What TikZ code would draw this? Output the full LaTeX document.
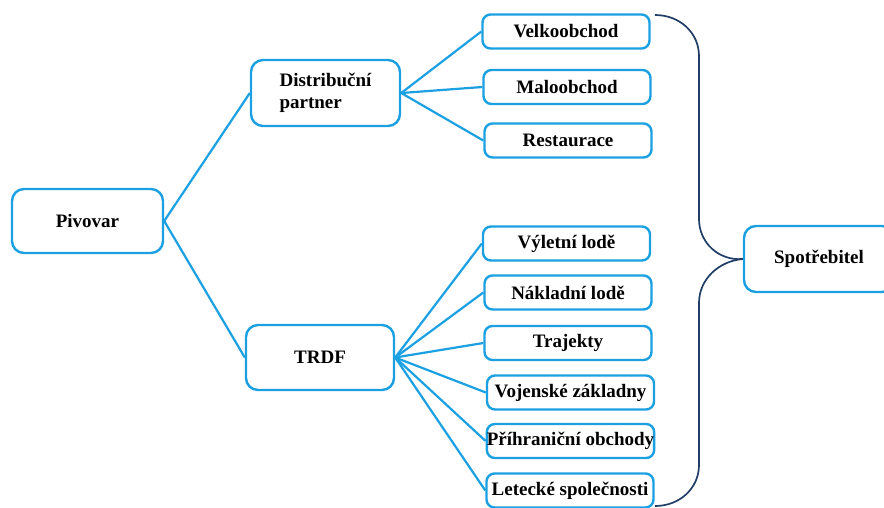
\documentclass[tikz,border=0pt]{standalone}
\usepackage{fontspec}
\setmainfont{Liberation Serif}
\definecolor{boxblue}{RGB}{27,160,226}
\definecolor{bracenavy}{RGB}{32,62,104}
\tikzset{
  box/.style={draw=boxblue, line width=2.4pt, rounded corners=12pt, fill=white,
    inner sep=0pt, font=\fontsize{19}{22}\selectfont\bfseries, text=black},
  leaf/.style={box, rounded corners=8pt, minimum width=167pt, minimum height=34pt},
  link/.style={draw=boxblue, line width=2.2pt},
  bracket/.style={draw=bracenavy, line width=1.7pt}
}
\begin{document}
\begin{tikzpicture}[x=1pt,y=-1pt]
\useasboundingbox (0,0) rectangle (884,507);

% main chain
\node[box, minimum width=151pt, minimum height=64pt] (piv) at (87.5,221) {Pivovar};
\node[box, minimum width=149pt, minimum height=66pt, align=left] (dist) at (325.5,93) {Distribuční\\partner};
\node[box, minimum width=148pt, minimum height=65pt] (trdf) at (320,357.5) {TRDF};

% retail branch
\node[leaf] (velko) at (566,31.5) {Velkoobchod};
\node[leaf] (malo) at (567,87) {Maloobchod};
\node[leaf] (rest) at (568,140.5) {Restaurace};

% TRDF branch
\node[leaf] (vylet) at (566.5,243.5) {Výletní lodě};
\node[leaf] (naklad) at (568,292.5) {Nákladní lodě};
\node[leaf] (traj) at (568,343) {Trajekty};
\node[leaf] (voj) at (570.5,392.5) {Vojenské základny};
\node[leaf] (prih) at (570.5,441) {Příhraniční obchody};
\node[leaf] (let) at (570,490.5) {Letecké společnosti};

% consumer
\node[box, minimum width=150pt, minimum height=66pt] (spot) at (819,259) {Spotřebitel};

% connectors
\draw[link] (piv.east) -- (dist.west);
\draw[link] (piv.east) -- (trdf.west);
\foreach \t in {velko,malo,rest}
  \draw[link] (dist.east) -- (\t.west);
\foreach \t in {vylet,naklad,traj,voj,prih,let}
  \draw[link] (trdf.east) -- (\t.west);

% bracket gathering all outlets into the consumer
\coordinate (btop) at (655,15);
\coordinate (bbot) at (655,506);
\draw[bracket] (btop) .. controls (680,15) and (699,33) .. (699,56)
  -- (699,219) .. controls (699,243) and (719,261) .. (spot.west);
\draw[bracket] (spot.west) .. controls (719,261) and (699,279) .. (699,303)
  -- (699,465) .. controls (699,488) and (680,506) .. (bbot);
\end{tikzpicture}
\end{document}
